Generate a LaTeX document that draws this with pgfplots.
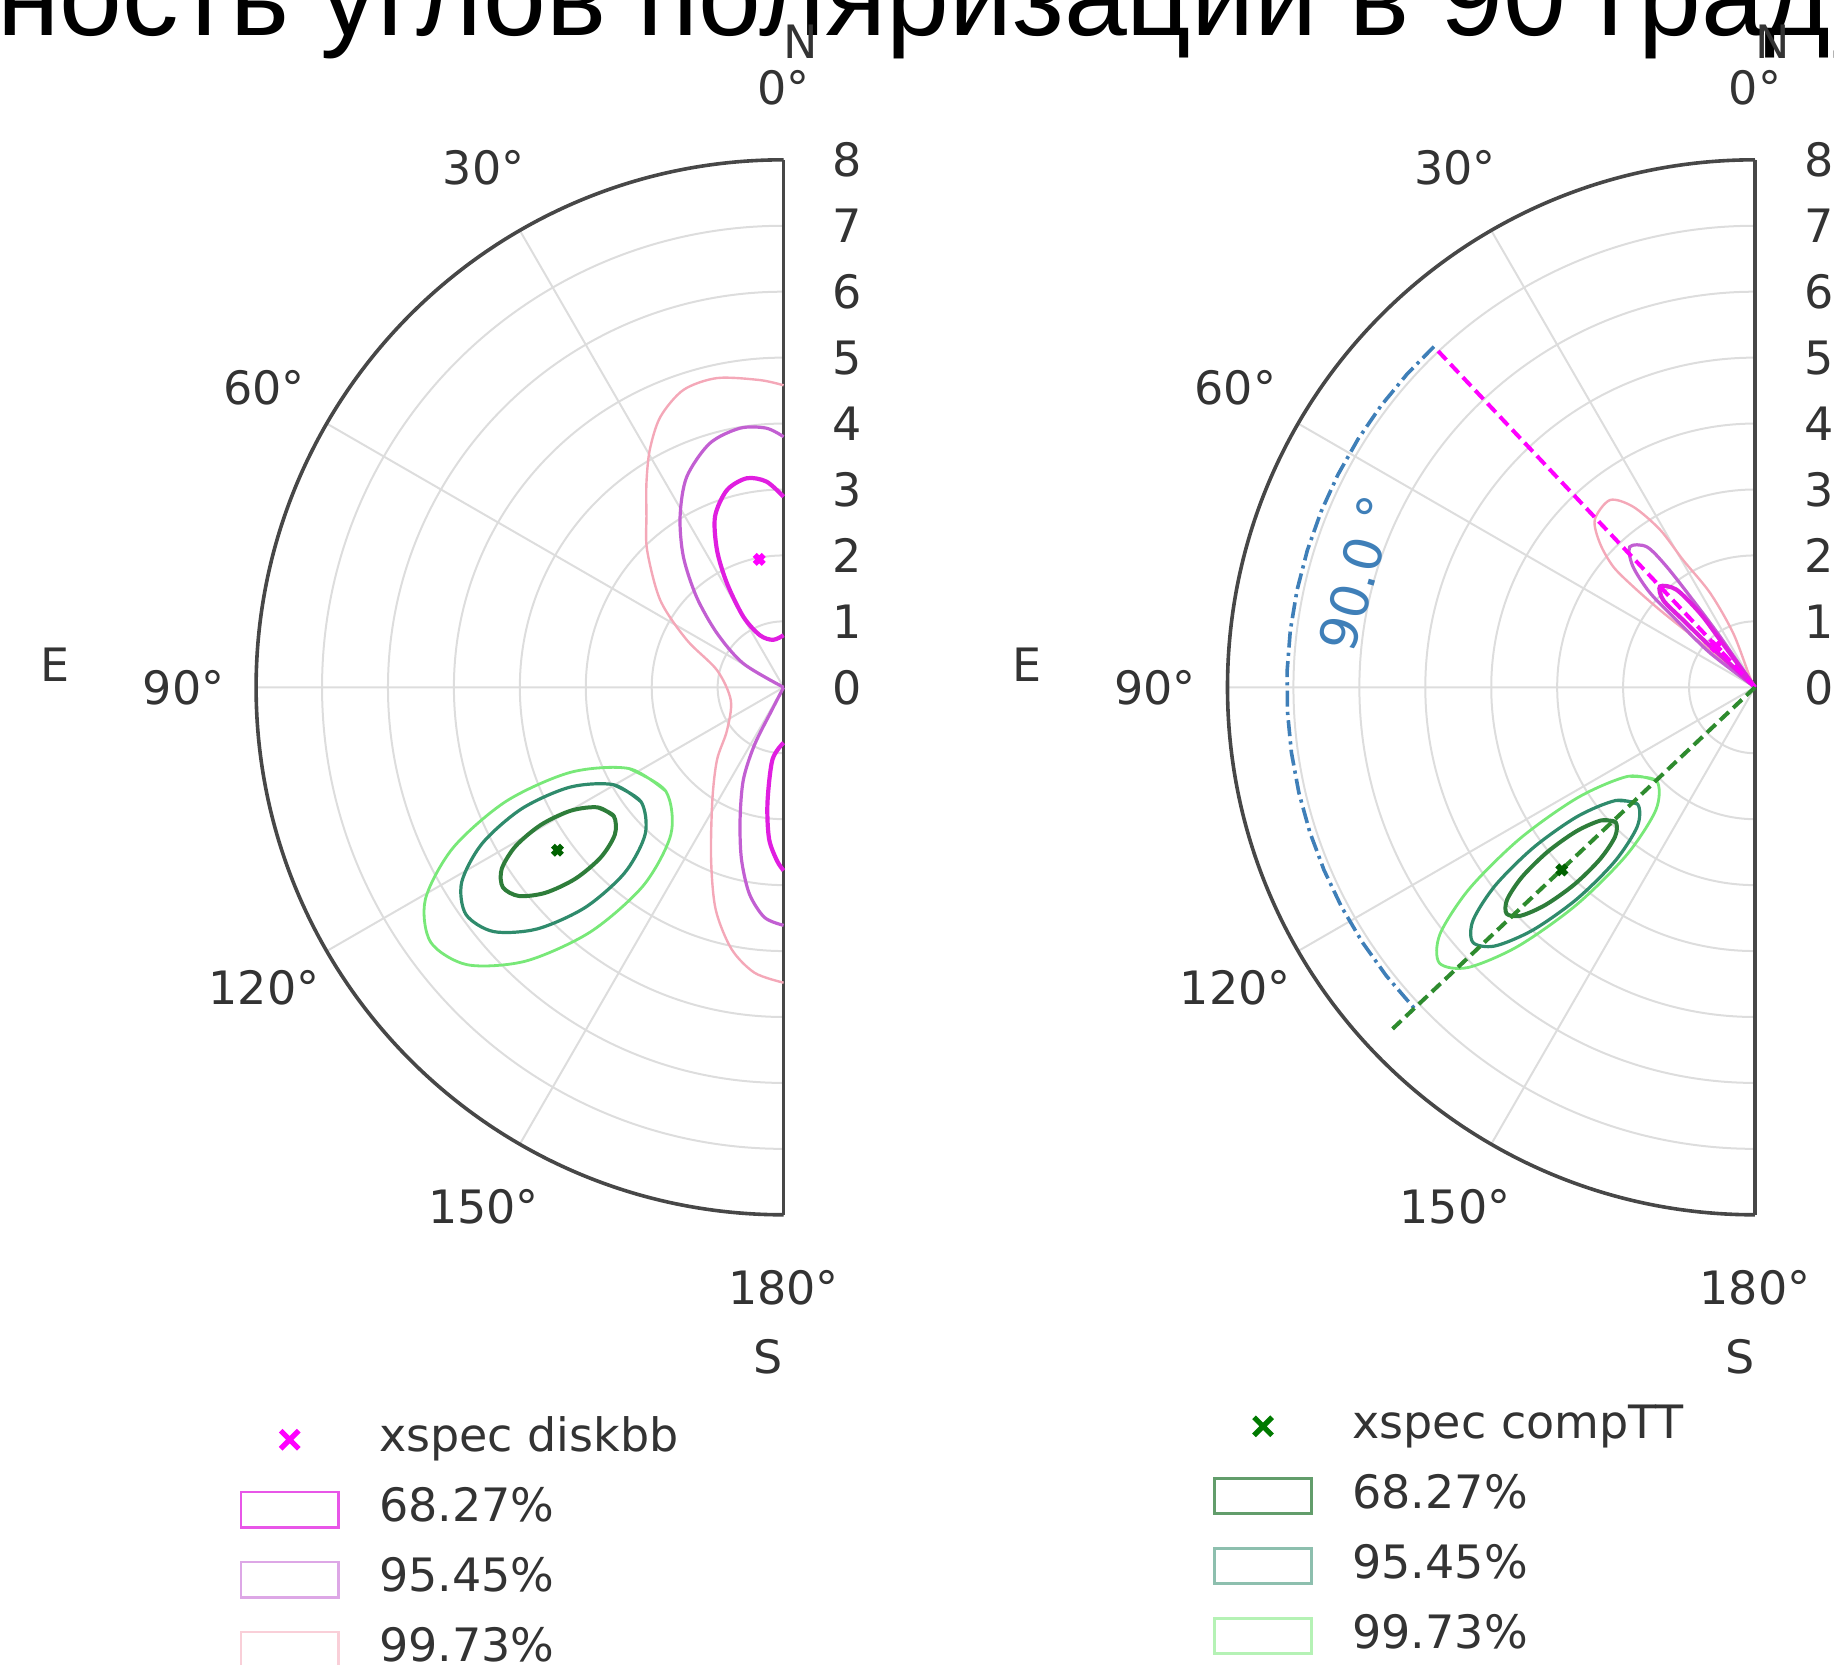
\documentclass[border=0pt]{standalone}
\usepackage{fontspec}
\setmainfont{DejaVu Sans}
\newfontfamily\titlefont{Liberation Sans}
\usepackage{pgfplots}
\pgfplotsset{compat=1.18}
\usepgfplotslibrary{polar}

\definecolor{dkA}{HTML}{E01EE0}
\definecolor{dkB}{HTML}{C25FD2}
\definecolor{dkC}{HTML}{F4A8B8}
\definecolor{dkM}{HTML}{FF00FF}
\definecolor{ctA}{HTML}{2E7D3A}
\definecolor{ctB}{HTML}{2F8B6C}
\definecolor{ctC}{HTML}{78E878}
\definecolor{ctM}{HTML}{007A00}
\definecolor{ctD}{HTML}{2E8B2E}
\definecolor{gridc}{HTML}{DDDDDD}
\definecolor{arcblue}{HTML}{3F7FB8}
\definecolor{lab}{HTML}{333333}

\newlength\prefw

\pgfplotsset{
  rectleg/.style={legend image code/.code={\path (0pt,0pt) (24.4pt,0pt); \draw[##1] (0pt,-4.4pt) rectangle (24.4pt,4.4pt);}},
  markleg/.style={legend image code/.code={\path (0pt,0pt) (24.4pt,0pt); \draw[mark repeat=2,mark phase=2,##1] plot coordinates {(0pt,0pt) (12.2pt,0pt) (24.4pt,0pt)};}},
  halfpolar/.style={
    scale only axis, width=263.75pt, height=263.75pt,
    anchor=east,
    xmin=90, xmax=270, ymin=0, ymax=8,
    xtick={90,120,...,270}, xticklabels={},
    ytick={0,1,...,8},
    /pgf/number format/assume math mode=true,
    tick label style={font=\fontsize{11.5}{13.8}\selectfont},
    yticklabel style={anchor=center, xshift=16pt, text=lab},
    grid=major, major grid style={gridc, line width=0.5pt},
    axis line style={black!72, line width=0.9pt},
    major tick length=0pt,
    clip=false,
    legend style={draw=none, fill=none, inner sep=0pt, outer sep=0pt, row sep=6.5pt, column sep=9.5pt, anchor=north west,
      font=\fontsize{11.5}{13.8}\selectfont,
      nodes={inner sep=0pt, text height=8.5pt, text depth=2.5pt, text=lab}},
    legend cell align=left,
  },
}

\begin{document}
\settowidth{\prefw}{\titlefont\fontsize{28.25}{34}\selectfont Разность углов поляризации в }%
\begin{tikzpicture}[font=\fontsize{11.5}{13.8}\selectfont]
\useasboundingbox (0,0) rectangle (458.5pt,416pt);
\clip (0,0) rectangle (458.5pt,416pt);
\node[anchor=base west, inner sep=0pt, xshift=-\prefw, font=\titlefont\fontsize{28.25}{34}\selectfont] at (360pt,407pt) {Разность углов поляризации в 90 градусов};

% ---------------- left: diskbb vs compTT ----------------
\begin{polaraxis}[halfpolar, at={(195.9pt,244.175pt)},
  legend style={at={(-0.0337,-0.1923)}}]
% diskbb 99.73
\addplot[dkC, line width=0.6pt, smooth, data cs=cart, forget plot] coordinates {
(0,4.58) (-0.36,4.66) (-1.01,4.69) (-1.52,4.51) (-1.87,4.10) (-2.03,3.60) (-2.08,3.10) (-2.08,2.60) (-2.07,2.08) (-1.87,1.32) (-1.47,0.72) (-1.01,0.26) (-0.80,-0.20) (-0.86,-0.66) (-1.01,-1.10) (-1.08,-1.70) (-1.10,-2.60) (-1.03,-3.37) (-0.79,-3.97) (-0.44,-4.33) (0,-4.48)};
% diskbb 95.45
\addplot[dkB, line width=0.8pt, smooth, data cs=cart, forget plot] coordinates {
(0,3.80) (-0.26,3.93) (-0.66,3.93) (-1.12,3.70) (-1.47,3.19) (-1.57,2.59) (-1.52,1.98) (-1.32,1.37) (-1.01,0.82) (-0.61,0.36) (0,0)};
\addplot[dkB, line width=0.8pt, smooth, data cs=cart, forget plot] coordinates {
(0,0) (-0.17,-0.33) (-0.44,-0.87) (-0.61,-1.40) (-0.66,-2.00) (-0.64,-2.60) (-0.52,-3.13) (-0.29,-3.49) (0,-3.61)};
% diskbb 68.27
\addplot[dkA, line width=1.05pt, smooth, data cs=cart, forget plot] coordinates {
(0,2.89) (-0.26,3.12) (-0.56,3.17) (-0.86,2.99) (-1.04,2.59) (-1.01,2.08) (-0.86,1.58) (-0.61,1.07) (-0.36,0.79) (-0.16,0.72) (0,0.79)};
\addplot[dkA, line width=1.05pt, smooth, data cs=cart, forget plot] coordinates {
(0,-0.84) (-0.17,-1.10) (-0.245,-1.76) (-0.22,-2.30) (-0.10,-2.63) (0,-2.78)};
% compTT 99.73
\addplot[ctC, line width=0.7pt, smooth, data cs=cart, forget plot] coordinates {
(-1.787,-1.575) (-2.345,-1.232) (-3.230,-1.289) (-4.207,-1.728) (-5.013,-2.434) (-5.433,-3.216) (-5.353,-3.865) (-4.796,-4.208) (-3.910,-4.152) (-2.933,-3.712) (-2.127,-3.007) (-1.708,-2.224) (-1.787,-1.575) (-2.345,-1.232)};
% compTT 95.45
\addplot[ctB, line width=0.8pt, smooth, data cs=cart, forget plot] coordinates {
(-2.161,-1.737) (-2.580,-1.477) (-3.242,-1.515) (-3.971,-1.841) (-4.571,-2.368) (-4.882,-2.955) (-4.819,-3.443) (-4.401,-3.704) (-3.738,-3.665) (-3.009,-3.339) (-2.409,-2.812) (-2.099,-2.226) (-2.161,-1.737) (-2.580,-1.477)};
% compTT 68.27
\addplot[ctA, line width=1pt, smooth, data cs=cart, forget plot] coordinates {
(-2.576,-1.953) (-2.820,-1.821) (-3.224,-1.870) (-3.679,-2.085) (-4.065,-2.410) (-4.276,-2.757) (-4.258,-3.033) (-4.014,-3.165) (-3.611,-3.116) (-3.155,-2.901) (-2.770,-2.576) (-2.558,-2.229) (-2.576,-1.953) (-2.820,-1.821)};
% best fits
\addplot[only marks, mark=x, mark size=1.6pt, line width=1.4pt, dkM, data cs=cart, forget plot] coordinates {(-0.37,1.94)};
\addplot[only marks, mark=x, mark size=1.6pt, line width=1.4pt, ctM!80!black, data cs=cart, forget plot] coordinates {(-3.43,-2.47)};
% legend
\addlegendimage{markleg, only marks, mark=x, mark size=3.2pt, line width=1.3pt, dkM}
\addlegendentry{xspec diskbb}
\addlegendimage{rectleg, draw=dkA!75!white, line width=0.7pt}
\addlegendentry{68.27\%}
\addlegendimage{rectleg, draw=dkB!55!white, line width=0.7pt}
\addlegendentry{95.45\%}
\addlegendimage{rectleg, draw=dkC!55!white, line width=0.7pt}
\addlegendentry{99.73\%}
% angle labels
\node[text=lab] at (axis cs:90,9.1) {0°};
\node[text=lab] at (axis cs:120,9.1) {30°};
\node[text=lab] at (axis cs:150,9.1) {60°};
\node[text=lab] at (axis cs:180,9.1) {90°};
\node[text=lab] at (axis cs:210,9.1) {120°};
\node[text=lab] at (axis cs:240,9.1) {150°};
\node[text=lab] at (axis cs:270,9.1) {180°};
\node[text=lab] at (axis cs:88.44,9.80) {N};
\node[text=lab] at (axis cs:178.2,11.05) {E};
\node[text=lab] at (axis cs:268.7,10.15) {S};
\end{polaraxis}

% ---------------- right: 90 degree difference ----------------
\begin{polaraxis}[halfpolar, at={(438.75pt,244.175pt)},
  legend style={at={(-0.030,-0.1796)}}]
% diskbb 99.73
\addplot[dkC, line width=0.6pt, smooth, data cs=cart, forget plot] coordinates {
(0,0) (-0.08,0.16) (-0.33,0.82) (-0.68,1.43) (-1.09,1.93) (-1.44,2.39) (-1.85,2.74) (-2.20,2.84) (-2.43,2.54) (-2.35,2.18) (-2.15,1.83) (-1.85,1.53) (-1.44,1.17) (-0.94,0.77) (-0.43,0.36) (0,0)};
% diskbb 95.45
\addplot[dkB, line width=0.8pt, smooth, data cs=cart, forget plot] coordinates {
(0,0) (-0.53,0.77) (-0.94,1.32) (-1.34,1.83) (-1.64,2.13) (-1.90,2.13) (-1.85,1.83) (-1.59,1.43) (-1.19,1.02) (-0.68,0.52) (0,0)};
% diskbb 68.27
\addplot[dkA, line width=1.05pt, smooth, data cs=cart, forget plot] coordinates {
(0,0) (-0.53,0.72) (-0.83,1.12) (-1.19,1.48) (-1.44,1.53) (-1.39,1.32) (-1.09,1.02) (-0.73,0.67) (-0.33,0.31) (0,0)};
% compTT 99.73
\addplot[ctC, line width=0.7pt, smooth, data cs=cart, forget plot] coordinates {
(-1.493,-1.418) (-1.926,-1.350) (-2.684,-1.671) (-3.564,-2.294) (-4.331,-3.053) (-4.778,-3.744) (-4.787,-4.182) (-4.354,-4.250) (-3.597,-3.929) (-2.716,-3.306) (-1.950,-2.547) (-1.502,-1.856) (-1.493,-1.418) (-1.926,-1.350)};
% compTT 95.45
\addplot[ctB, line width=0.8pt, smooth, data cs=cart, forget plot] coordinates {
(-1.781,-1.772) (-2.112,-1.717) (-2.690,-1.957) (-3.358,-2.429) (-3.939,-3.005) (-4.276,-3.533) (-4.279,-3.868) (-3.948,-3.924) (-3.371,-3.683) (-2.702,-3.211) (-2.122,-2.635) (-1.784,-2.108) (-1.781,-1.772) (-2.112,-1.717)};
% compTT 68.27
\addplot[ctA, line width=1pt, smooth, data cs=cart, forget plot] coordinates {
(-2.113,-2.046) (-2.327,-2.017) (-2.705,-2.181) (-3.146,-2.495) (-3.532,-2.875) (-3.759,-3.219) (-3.767,-3.434) (-3.553,-3.464) (-3.176,-3.299) (-2.734,-2.985) (-2.349,-2.605) (-2.121,-2.262) (-2.113,-2.046) (-2.327,-2.017)};
% angle difference
\addplot[arcblue, line width=0.9pt, dash pattern=on 4pt off 1.3pt on 0.8pt off 1.3pt, forget plot] coordinates {
(133.3,7.1) (138,7.1) (143,7.1) (148,7.1) (153,7.1) (158,7.1) (163,7.1) (168,7.1) (173,7.1) (178,7.1) (183,7.1) (188,7.1) (193,7.1) (198,7.1) (203,7.1) (208,7.1) (213,7.1) (218,7.1) (223.3,7.1)};
\addplot[dkM, line width=1pt, dash pattern=on 3pt off 1.5pt, forget plot] coordinates {(133.3,0) (133.3,7.09)};
\addplot[ctD, line width=1pt, dash pattern=on 3pt off 1.5pt, forget plot] coordinates {(223.3,0) (223.3,7.56)};
% best fits
\addplot[only marks, mark=x, mark size=1.6pt, line width=1.4pt, dkM, data cs=cart, forget plot] coordinates {(-0.59,0.62)};
\addplot[only marks, mark=x, mark size=1.6pt, line width=1.4pt, ctM!80!black, data cs=cart, forget plot] coordinates {(-2.93,-2.77)};
% legend
\addlegendimage{markleg, only marks, mark=x, mark size=3.2pt, line width=1.3pt, ctM}
\addlegendentry{xspec compTT}
\addlegendimage{rectleg, draw=ctA!75!white, line width=0.7pt}
\addlegendentry{68.27\%}
\addlegendimage{rectleg, draw=ctB!55!white, line width=0.7pt}
\addlegendentry{95.45\%}
\addlegendimage{rectleg, draw=ctC!55!white, line width=0.7pt}
\addlegendentry{99.73\%}
\node[text=arcblue, rotate=74, font=\fontsize{13}{15}\selectfont] at (axis cs:164,6.27) {90.0 °};
% angle labels
\node[text=lab] at (axis cs:90,9.1) {0°};
\node[text=lab] at (axis cs:120,9.1) {30°};
\node[text=lab] at (axis cs:150,9.1) {60°};
\node[text=lab] at (axis cs:180,9.1) {90°};
\node[text=lab] at (axis cs:210,9.1) {120°};
\node[text=lab] at (axis cs:240,9.1) {150°};
\node[text=lab] at (axis cs:270,9.1) {180°};
\node[text=lab] at (axis cs:88.44,9.80) {N};
\node[text=lab] at (axis cs:178.2,11.05) {E};
\node[text=lab] at (axis cs:268.7,10.15) {S};
\end{polaraxis}
\end{tikzpicture}
\end{document}
